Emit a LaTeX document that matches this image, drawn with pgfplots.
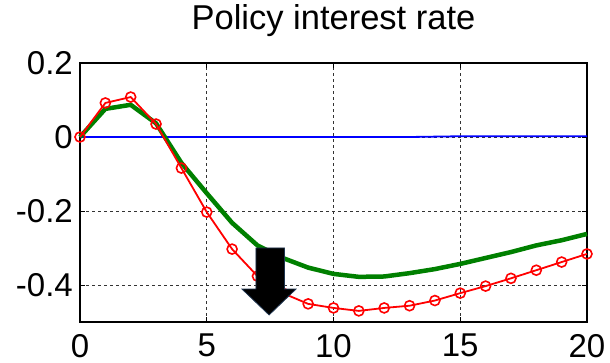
\documentclass[border=0pt]{standalone}
\usepackage{pgfplots}
\pgfplotsset{compat=1.18}
\usepackage{fontspec}
\setmainfont{Liberation Sans}

\definecolor{mgreen}{rgb}{0,0.5,0}
\definecolor{arrowedge}{HTML}{1F3550}

\begin{document}
\begin{tikzpicture}
\begin{axis}[
  at={(0pt,0pt)}, anchor=south west,
  scale only axis,
  width=507pt, height=259pt,
  xmin=0, xmax=20, ymin=-0.5, ymax=0.2,
  xtick={0,5,10,15,20},
  ytick={-0.4,-0.2,0,0.2},
  yticklabels={-0.4,-0.2,0,0.2},
  xticklabels={0,5,10,15,20},
  tick align=inside,
  major tick length=5pt,
  tick style={black, line width=0.8pt},
  axis line style={black, line width=2.2pt},
  grid=major,
  major grid style={black!80, line width=0.6pt, dash pattern=on 3pt off 3pt},
  xticklabel style={font=\fontsize{33}{36}\selectfont, inner sep=0pt, anchor=north, yshift=-12pt},
  yticklabel style={font=\fontsize{33}{36}\selectfont, inner sep=0pt, anchor=east, xshift=-7pt},
  title={Policy interest rate},
  title style={font=\fontsize{34.5}{38}\selectfont, at={(axis description cs:0.5,1)}, anchor=base, yshift=27pt, inner sep=0pt},
  clip=false,
]
% blue: flat response
\addplot[blue, line width=1.8pt] coordinates {
  (0,0) (1,0) (2,0) (3,0) (4,0) (5,0) (6,0) (7,0) (8,0) (9,0) (10,0)
  (11,0) (12,0) (13,0) (14,0.001) (15,0.002) (16,0.002) (17,0.002)
  (18,0.002) (19,0.002) (20,0.002)};
% green: thick line
\addplot[mgreen, line width=4.5pt] coordinates {
  (0,0) (1,0.076) (2,0.087) (3,0.037) (4,-0.07) (5,-0.152) (6,-0.232)
  (7,-0.293) (8,-0.327) (9,-0.353) (10,-0.37) (11,-0.378) (12,-0.377)
  (13,-0.368) (14,-0.357) (15,-0.343) (16,-0.327) (17,-0.311)
  (18,-0.293) (19,-0.279) (20,-0.262)};
% red: line with circle markers
\addplot[red, line width=1.8pt, mark=o, mark size=5pt,
  mark options={line width=1.6pt, fill=none}] coordinates {
  (0,0) (1,0.092) (2,0.108) (3,0.035) (4,-0.084) (5,-0.203) (6,-0.303)
  (7,-0.376) (8,-0.422) (9,-0.451) (10,-0.462) (11,-0.470) (12,-0.462)
  (13,-0.456) (14,-0.442) (15,-0.422) (16,-0.403) (17,-0.382)
  (18,-0.36) (19,-0.338) (20,-0.316)};
% corner points of the downward arrow, drawn over everything below
\coordinate (a1) at (axis cs:6.94,-0.300);
\coordinate (a2) at (axis cs:8.07,-0.300);
\coordinate (a3) at (axis cs:8.07,-0.411);
\coordinate (a4) at (axis cs:8.52,-0.411);
\coordinate (a5) at (axis cs:7.46,-0.481);
\coordinate (a6) at (axis cs:6.39,-0.411);
\coordinate (a7) at (axis cs:6.94,-0.411);
\end{axis}
\filldraw[fill=black, draw=arrowedge, line width=0.8pt]
  (a1) -- (a2) -- (a3) -- (a4) -- (a5) -- (a6) -- (a7) -- cycle;
\pgfresetboundingbox
\path (-80pt,-41pt) rectangle (530pt,322pt);
\end{tikzpicture}
\end{document}
